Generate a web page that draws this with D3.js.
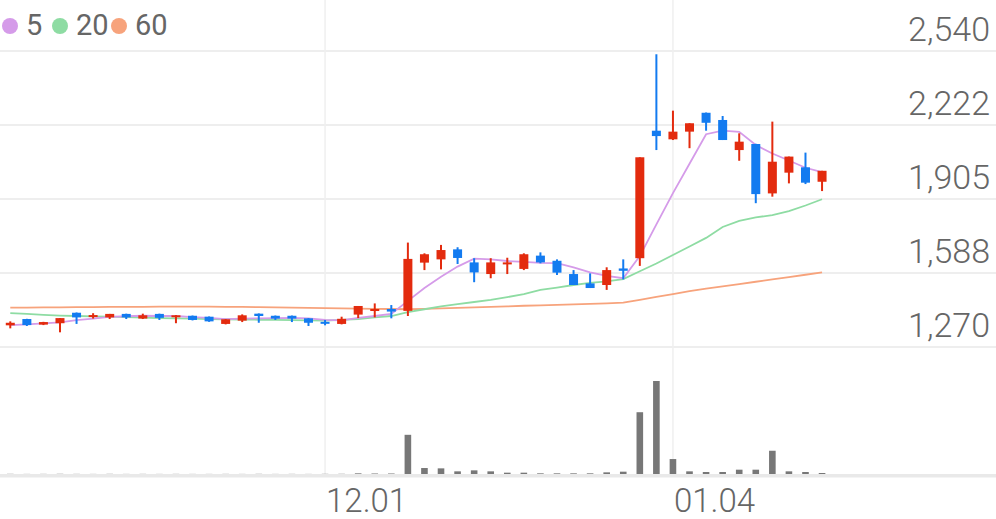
<!DOCTYPE html>
<html><head><meta charset="utf-8">
<script src="https://cdn.jsdelivr.net/npm/d3@7"></script>
<style>
html,body{margin:0;padding:0;background:#fff;}
svg{display:block;font-family:Roboto,"Noto Sans",sans-serif;}
</style></head>
<body><svg id="c" width="996" height="519"></svg>
<script>
const openP  = [1363,1390,1366,1372,1417,1401,1397,1412,1392,1412,1398,1404,1400,1369,1383,1413,1404,1404,1393,1378,1369,1409,1425,1433,1425,1632,1646,1689,1633,1583,1626,1605,1662,1640,1583,1543,1536,1607,1651,2198,2161,2194,2275,2244,2115,2141,1929,2018,2041,1979];
const highP  = [1380,1391,1378,1394,1418,1415,1412,1413,1413,1413,1407,1405,1401,1390,1410,1414,1405,1405,1394,1386,1400,1446,1457,1450,1718,1672,1708,1698,1651,1651,1653,1672,1676,1646,1600,1586,1612,1646,2084,2526,2284,2230,2276,2261,2187,2142,2237,2087,2104,2026];
const lowP   = [1350,1360,1364,1333,1369,1392,1390,1390,1390,1386,1372,1384,1378,1367,1377,1374,1386,1377,1360,1363,1367,1394,1397,1393,1403,1600,1603,1626,1548,1565,1583,1600,1629,1579,1536,1523,1515,1560,1618,2115,2158,2123,2198,2158,2069,1887,1915,1972,1969,1939];
const closeP = [1374,1364,1377,1394,1397,1407,1412,1397,1406,1395,1406,1386,1380,1389,1406,1403,1392,1392,1374,1370,1391,1446,1433,1422,1648,1668,1686,1652,1590,1633,1633,1668,1633,1589,1536,1523,1600,1597,2084,2175,2194,2230,2232,2158,2151,1926,2065,2087,1975,2026];
const volume = [5,3,4,6,4,3,5,3,4,3,4,3,3,4,3,5,3,4,3,5,6,20,15,15,1180,180,170,80,110,80,40,40,20,20,20,20,50,70,1860,2800,450,80,60,60,130,130,700,80,60,30];
const ma5  = [1364,1367,1371,1376,1385,1392,1399,1402,1404,1403,1403,1398,1395,1390,1392,1393,1394,1395,1393,1386,1384,1395,1403,1412,1468,1523,1571,1615,1649,1646,1639,1635,1631,1630,1612,1590,1575,1565,1660,1796,1930,2056,2183,2198,2193,2137,2100,2070,2039,2020];
const ma20 = [1415,1412,1408,1405,1403,1401,1400,1398,1396,1394,1393,1392,1390,1389,1388,1387,1386,1385,1384,1383,1386,1390,1397,1403,1420,1432,1444,1454,1463,1472,1484,1497,1515,1525,1536,1545,1552,1561,1595,1628,1665,1701,1738,1785,1811,1826,1836,1853,1877,1904];
const ma60 = [1439,1439,1440,1440,1441,1441,1442,1442,1442,1443,1443,1443,1443,1442,1442,1441,1440,1439,1438,1437,1436,1435,1434,1433,1432,1434,1436,1438,1440,1442,1444,1447,1449,1451,1453,1455,1457,1460,1472,1485,1497,1510,1520,1530,1540,1550,1560,1570,1580,1590];
const xLabels = [{i:19, t:"12.01"}, {i:40, t:"01.04"}];
const yTicks = [2540, 2222.5, 1905, 1587.5, 1270];
const yTickLabels = ["2,540","2,222","1,905","1,588","1,270"];
const maNames = ["5","20","60"];
const maColors = ["#d59be9","#8edca3","#f7a37c"];
const upColor = "#e32b0e", downColor = "#137bf0";

const svg = d3.select("#c");
const W = 996;
const slots = d3.range(60);
const x = d3.scaleBand().domain(slots).range([2, W]).paddingInner(0);
const cx = i => x(i) + x.bandwidth()/2;
const y = d3.scaleLinear().domain([1270, 2540]).range([347, 51]);
const yv = d3.scaleLinear().domain([0, d3.max(volume)]).range([474, 381]);

svg.append("g").selectAll("line").data(yTicks).join("line")
  .attr("x1",0).attr("x2",W).attr("y1",d=>y(d)).attr("y2",d=>y(d))
  .attr("stroke","#eeeeee").attr("stroke-width",2);
svg.append("g").selectAll("line").data(xLabels).join("line")
  .attr("x1",d=>cx(d.i)).attr("x2",d=>cx(d.i)).attr("y1",0).attr("y2",474)
  .attr("stroke","#efefef").attr("stroke-width",1.5);
svg.append("rect").attr("x",0).attr("y",474).attr("width",W).attr("height",3.5).attr("fill","#e9e9e9");

svg.append("g").selectAll("text").data(yTicks).join("text")
  .attr("x",990).attr("y",d=>y(d)-10).attr("text-anchor","end")
  .attr("font-size",34).attr("font-weight",300).attr("fill","#666")
  .text((d,i)=>yTickLabels[i]);
svg.append("g").selectAll("text").data(xLabels).join("text")
  .attr("x",d=>cx(d.i)+1).attr("y",512).attr("text-anchor","start")
  .attr("font-size",33).attr("font-weight",300).attr("fill","#666")
  .text(d=>d.t);

const data = closeP.map((c,i)=>({i, o:openP[i], h:highP[i], l:lowP[i], c, v:volume[i]}));
svg.append("g").selectAll("rect").data(data).join("rect")
  .attr("x",d=>cx(d.i)-3.3).attr("width",6.6)
  .attr("y",d=>yv(d.v)).attr("height",d=>474-yv(d.v))
  .attr("fill","#777");

const line = d3.line().x((d,i)=>cx(i)).y(d=>y(d));
[ma60, ma20, ma5].forEach((arr,k)=>{
  svg.append("path").datum(arr).attr("d",line).attr("fill","none")
    .attr("stroke",maColors[2-k]).attr("stroke-width",1.8);
});

const cg = svg.append("g").selectAll("g").data(data).join("g");
cg.append("line").attr("x1",d=>cx(d.i)).attr("x2",d=>cx(d.i))
  .attr("y1",d=>y(d.h)).attr("y2",d=>y(d.l))
  .attr("stroke",d=>d.c>=d.o?upColor:downColor).attr("stroke-width",2);
cg.append("rect").attr("x",d=>cx(d.i)-4.5).attr("width",9)
  .attr("y",d=>y(Math.max(d.o,d.c)))
  .attr("height",d=>Math.max(2, Math.abs(y(d.o)-y(d.c))))
  .attr("fill",d=>d.c>=d.o?upColor:downColor);

const lg = svg.append("g");
const legX = [10, 60, 119];
maNames.forEach((n,k)=>{
  lg.append("circle").attr("cx",legX[k]).attr("cy",26).attr("r",8).attr("fill",maColors[k]);
  lg.append("text").attr("x",legX[k]+16).attr("y",35).attr("font-size",29)
    .attr("fill","#666").text(n);
});
</script></body></html>
